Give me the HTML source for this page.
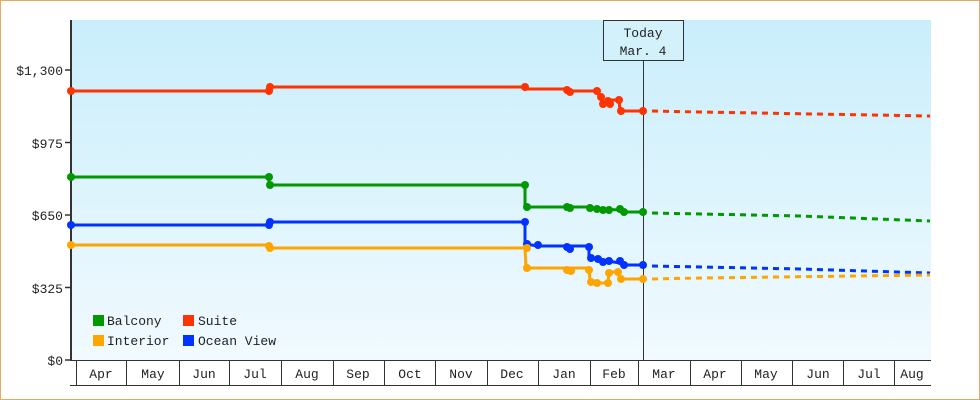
<!DOCTYPE html>
<html><head><meta charset="utf-8"><style>
html,body{margin:0;padding:0;background:#fff}
svg{display:block}
text{font-family:"Liberation Mono","DejaVu Sans Mono",monospace;font-size:13px;fill:#222}
</style></head><body>
<svg width="980" height="400" viewBox="0 0 980 400">
<defs>
<linearGradient id="bg" x1="0" y1="0" x2="0" y2="1">
<stop offset="0" stop-color="#c9eefb"/><stop offset="1" stop-color="#f1faff"/>
</linearGradient>
</defs>
<rect x="0.5" y="0.5" width="979" height="399" fill="#fff" stroke="#e8a862"/>
<rect x="71" y="20" width="860" height="340" fill="url(#bg)"/>
<!-- y axis -->
<line x1="71" y1="20" x2="71" y2="361" stroke="#333" stroke-width="2"/>
<g stroke="#333" stroke-width="1.5">
<line x1="65" y1="70" x2="71" y2="70"/><line x1="65" y1="142.5" x2="71" y2="142.5"/>
<line x1="65" y1="215" x2="71" y2="215"/><line x1="65" y1="287.5" x2="71" y2="287.5"/>
<line x1="65" y1="360" x2="71" y2="360"/>
</g>
<g text-anchor="end">
<text x="63" y="75">$1,300</text><text x="63" y="148">$975</text>
<text x="63" y="220">$650</text><text x="63" y="293">$325</text><text x="63" y="365">$0</text>
</g>
<!-- x axis boxes -->
<g stroke="#333" stroke-width="1" fill="none">
<line x1="70" y1="360.5" x2="931" y2="360.5"/>
<line x1="70" y1="385.5" x2="931" y2="385.5"/>
<line x1="76.5" y1="360" x2="76.5" y2="385"/><line x1="126.5" y1="360" x2="126.5" y2="385"/>
<line x1="179.5" y1="360" x2="179.5" y2="385"/><line x1="229.5" y1="360" x2="229.5" y2="385"/>
<line x1="281.5" y1="360" x2="281.5" y2="385"/><line x1="333.5" y1="360" x2="333.5" y2="385"/>
<line x1="384.5" y1="360" x2="384.5" y2="385"/><line x1="435.5" y1="360" x2="435.5" y2="385"/>
<line x1="487.5" y1="360" x2="487.5" y2="385"/><line x1="538.5" y1="360" x2="538.5" y2="385"/>
<line x1="590.5" y1="360" x2="590.5" y2="385"/><line x1="638.5" y1="360" x2="638.5" y2="385"/>
<line x1="690.5" y1="360" x2="690.5" y2="385"/><line x1="741.5" y1="360" x2="741.5" y2="385"/>
<line x1="792.5" y1="360" x2="792.5" y2="385"/><line x1="843.5" y1="360" x2="843.5" y2="385"/>
<line x1="894.5" y1="360" x2="894.5" y2="385"/>
</g>
<g text-anchor="middle">
<text x="101" y="378">Apr</text><text x="153" y="378">May</text><text x="204" y="378">Jun</text>
<text x="255" y="378">Jul</text><text x="307" y="378">Aug</text><text x="358" y="378">Sep</text>
<text x="410" y="378">Oct</text><text x="461" y="378">Nov</text><text x="512" y="378">Dec</text>
<text x="564" y="378">Jan</text><text x="614" y="378">Feb</text><text x="664" y="378">Mar</text>
<text x="715" y="378">Apr</text><text x="766" y="378">May</text><text x="818" y="378">Jun</text>
<text x="869" y="378">Jul</text><text x="912" y="378">Aug</text>
</g>
<!-- today -->
<line x1="643.5" y1="60" x2="643.5" y2="360" stroke="#333" stroke-width="1"/>
<rect x="603.5" y="20.5" width="80" height="40" fill="#d3f1fb" stroke="#333"/>
<text x="643" y="37" text-anchor="middle">Today</text>
<text x="643" y="55" text-anchor="middle">Mar. 4</text>
<!-- series -->
<g fill="none" stroke-width="3" stroke-linejoin="round">
<polyline stroke="#ff3300" points="71,91 269,91 269,87 525,87 525,89 567,89 567,91 597,91 601,97 603,104 607,100 609,104 610,100 619,100 620,111 643,111"/>
<polyline stroke="#ff3300" stroke-dasharray="6,5" points="652,111 700,112 930,116"/>
<polyline stroke="#009900" points="71,177 269,177 269,185 525,185 525,207 590,207 600,209 620,210 625,212 643,212"/>
<polyline stroke="#009900" stroke-dasharray="6,5" points="652,213 800,216 930,221"/>
<polyline stroke="#0033ff" points="71,225 269,225 269,222 525,222 525,244 538,246 589,246 589,258 620,263 625,265 643,265"/>
<polyline stroke="#0033ff" stroke-dasharray="6,5" points="652,266 800,269 930,273"/>
<polyline stroke="#ffa500" points="71,245 269,245 269,248 525,248 526,268 589,268 590,282 597,283 608,283 609,272 618,272 620,279 643,279"/>
<polyline stroke="#ffa500" stroke-dasharray="6,5" points="652,279 700,278 930,275"/>
</g>
<g>
<g fill="#ff3300"><circle cx="71" cy="91" r="4"/><circle cx="269" cy="91" r="4"/><circle cx="270" cy="87" r="4"/><circle cx="525" cy="87" r="4"/><circle cx="567" cy="90" r="4"/><circle cx="570" cy="92" r="4"/><circle cx="597" cy="91" r="4"/><circle cx="601" cy="97" r="4"/><circle cx="603" cy="104" r="4"/><circle cx="608" cy="101" r="4"/><circle cx="610" cy="104" r="4"/><circle cx="619" cy="100" r="4"/><circle cx="621" cy="111" r="4"/><circle cx="643" cy="111" r="4"/></g>
<g fill="#009900"><circle cx="71" cy="177" r="4"/><circle cx="269" cy="177" r="4"/><circle cx="270" cy="185" r="4"/><circle cx="525" cy="185" r="4"/><circle cx="527" cy="207" r="4"/><circle cx="567" cy="207" r="4"/><circle cx="570" cy="208" r="4"/><circle cx="590" cy="208" r="4"/><circle cx="597" cy="209" r="4"/><circle cx="603" cy="210" r="4"/><circle cx="609" cy="210" r="4"/><circle cx="620" cy="209" r="4"/><circle cx="624" cy="212" r="4"/><circle cx="643" cy="212" r="4"/></g>
<g fill="#0033ff"><circle cx="71" cy="225" r="4"/><circle cx="269" cy="225" r="4"/><circle cx="270" cy="222" r="4"/><circle cx="525" cy="222" r="4"/><circle cx="527" cy="244" r="4"/><circle cx="538" cy="245" r="4"/><circle cx="567" cy="247" r="4"/><circle cx="570" cy="249" r="4"/><circle cx="589" cy="247" r="4"/><circle cx="591" cy="258" r="4"/><circle cx="598" cy="259" r="4"/><circle cx="603" cy="262" r="4"/><circle cx="609" cy="261" r="4"/><circle cx="620" cy="261" r="4"/><circle cx="624" cy="265" r="4"/><circle cx="643" cy="265" r="4"/></g>
<g fill="#ffa500"><circle cx="71" cy="245" r="4"/><circle cx="269" cy="246" r="4"/><circle cx="270" cy="248" r="4"/><circle cx="527" cy="248" r="4"/><circle cx="527" cy="268" r="4"/><circle cx="567" cy="270" r="4"/><circle cx="571" cy="271" r="4"/><circle cx="589" cy="270" r="4"/><circle cx="591" cy="282" r="4"/><circle cx="597" cy="283" r="4"/><circle cx="608" cy="283" r="4"/><circle cx="609" cy="273" r="4"/><circle cx="618" cy="272" r="4"/><circle cx="621" cy="279" r="4"/><circle cx="643" cy="279" r="4"/></g>
</g>
<!-- legend -->
<rect x="93" y="315" width="11" height="11" fill="#009900"/><text x="107" y="325">Balcony</text>
<rect x="183" y="315" width="11" height="11" fill="#ff3300"/><text x="198" y="325">Suite</text>
<rect x="93" y="335" width="11" height="11" fill="#ffa500"/><text x="107" y="345">Interior</text>
<rect x="183" y="335" width="11" height="11" fill="#0033ff"/><text x="198" y="345">Ocean View</text>
</svg>
</body></html>
